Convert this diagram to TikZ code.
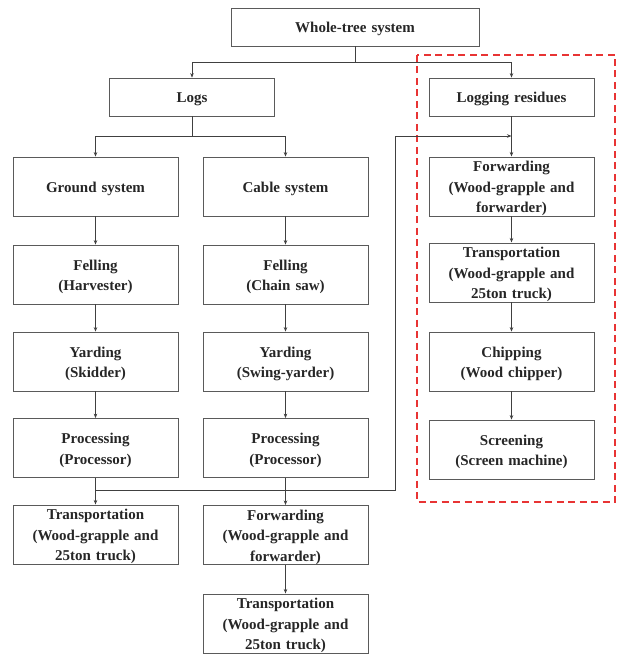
\documentclass[tikz,border=0pt]{standalone}
\usepackage{fontspec}
\setmainfont{Liberation Serif}
\usetikzlibrary{arrows.meta}
\definecolor{boxline}{RGB}{90,90,90}
\definecolor{dashred}{RGB}{232,52,52}
\begin{document}
\begin{tikzpicture}[x=1pt,y=-1pt,
  box/.style={draw=boxline, line width=0.8pt, minimum width=165pt, minimum height=59pt,
    text width=163pt, align=center, inner sep=0pt, font=\fontsize{15}{20.5}\selectfont\bfseries, text=black!85,
    execute at begin node={\rule{0pt}{15pt}}},
  arr/.style={draw=black!75, line width=0.6pt, -{Stealth[length=4.5pt,width=3.5pt]}},
  ln/.style={draw=black!75, line width=0.6pt}]
\useasboundingbox (0,0) rectangle (618,655);
% red dashed region
\draw[dashred, line width=1.6pt, dash pattern=on 7pt off 4.5pt] (417,55) rectangle (615,502);
% nodes
\node[box, minimum width=248pt, text width=240pt, minimum height=38pt] (wt) at (355,27) {Whole-tree system};
\node[box, minimum height=38pt] (logs) at (192,97) {Logs};
\node[box, minimum height=38pt] (res) at (511.5,97) {Logging residues};
\node[box] (gs) at (95.5,186.5) {Ground system};
\node[box] (cs) at (285.5,186.5) {Cable system};
\node[box] (f1) at (95.5,274.5) {Felling\\(Harvester)};
\node[box] (y1) at (95.5,361.5) {Yarding\\(Skidder)};
\node[box] (p1) at (95.5,448) {Processing\\(Processor)};
\node[box] (t1) at (95.5,534.5) {Transportation\\(Wood-grapple and\\25ton truck)};
\node[box] (f2) at (285.5,274.5) {Felling\\(Chain saw)};
\node[box] (y2) at (285.5,361.5) {Yarding\\(Swing-yarder)};
\node[box] (p2) at (285.5,448) {Processing\\(Processor)};
\node[box] (fw2) at (285.5,535) {Forwarding\\(Wood-grapple and\\forwarder)};
\node[box] (t2) at (285.5,623.5) {Transportation\\(Wood-grapple and\\25ton truck)};
\node[box] (rf) at (511.5,186.5) {Forwarding\\(Wood-grapple and\\forwarder)};
\node[box] (rt) at (511.5,272.5) {Transportation\\(Wood-grapple and\\25ton truck)};
\node[box] (rc) at (511.5,361.5) {Chipping\\(Wood chipper)};
\node[box] (rs) at (511.5,449.5) {Screening\\(Screen machine)};
% junction coordinates
\coordinate (j1) at (355,62);
\coordinate (j2) at (192,136);
\coordinate (j3) at (95.5,490);
\coordinate (c1) at (395,490);
\coordinate (c2) at (395,136);
\coordinate (c3) at (511.5,136);
% connectors
\draw[ln] (wt.south) -- (j1);
\draw[arr] (j1) -| (logs.north);
\draw[arr] (j1) -| (res.north);
\draw[ln] (logs.south) -- (j2);
\draw[arr] (j2) -| (gs.north);
\draw[arr] (j2) -| (cs.north);
\draw[arr] (gs) -- (f1);
\draw[arr] (f1) -- (y1);
\draw[arr] (y1) -- (p1);
\draw[arr] (p1) -- (t1);
\draw[arr] (cs) -- (f2);
\draw[arr] (f2) -- (y2);
\draw[arr] (y2) -- (p2);
\draw[arr] (p2) -- (fw2);
\draw[arr] (fw2) -- (t2);
\draw[arr] (res) -- (rf);
\draw[arr] (rf) -- (rt);
\draw[arr] (rt) -- (rc);
\draw[arr] (rc) -- (rs);
\draw[arr] (j3) -- (c1) -- (c2) -- (c3);
\end{tikzpicture}
\end{document}
